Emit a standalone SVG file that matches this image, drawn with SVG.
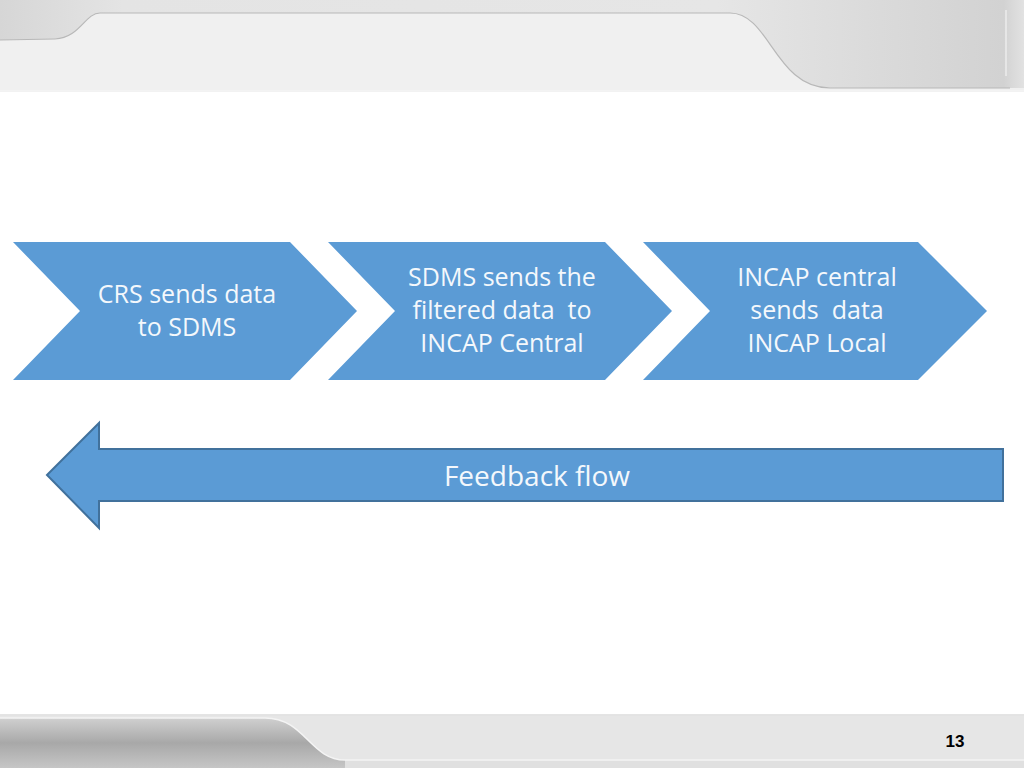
<svg xmlns="http://www.w3.org/2000/svg" width="1024" height="768" viewBox="0 0 1024 768">
  <defs>
    <linearGradient id="hdr" x1="0" y1="0" x2="1" y2="0">
      <stop offset="0" stop-color="#d6d6d6"/>
      <stop offset="0.12" stop-color="#e4e4e4"/>
      <stop offset="0.7" stop-color="#e6e6e6"/>
      <stop offset="0.86" stop-color="#dadada"/>
      <stop offset="0.98" stop-color="#d2d2d2"/>
      <stop offset="1" stop-color="#e2e2e2"/>
    </linearGradient>
    <linearGradient id="ftrDark" x1="0" y1="0" x2="0" y2="1">
      <stop offset="0" stop-color="#d0d0d0"/>
      <stop offset="0.5" stop-color="#a8a8a8"/>
      <stop offset="1" stop-color="#c6c6c6"/>
    </linearGradient>
    <style>
      .chev { fill: #5b9bd5; }
      .lbl { font-family: "Open Sans", "Liberation Sans", sans-serif; font-size: 25px; fill: #f4f8fc; text-anchor: middle; }
      .fb { fill: #5b9bd5; stroke: #41719c; stroke-width: 2; }
    </style>
  </defs>

  <rect width="1024" height="768" fill="#ffffff"/>

  <!-- header -->
  <rect x="0" y="0" width="1024" height="90" fill="url(#hdr)"/>
  <path d="M0,40 L55,39 C80,38 85,13 100,13 L730,13 C770,13 775,88 830,88 L1024,88 L1024,90 L0,90 Z" fill="#f0f0f0"/>
  <path d="M0,40 L55,39 C80,38 85,13 100,13 L730,13 C770,13 775,88 830,88 L1010,88" fill="none" stroke="#b8b8b8" stroke-width="1.2"/>
  <line x1="1006" y1="10" x2="1006" y2="76" stroke="#ececec" stroke-width="1.5"/>
  <line x1="0" y1="91" x2="1024" y2="91" stroke="#e6e6e6" stroke-width="1"/>

  <!-- footer -->
  <rect x="0" y="716" width="1024" height="52" fill="#e6e6e6"/>
  <path d="M0,718 L265,718 C305,718 310,760 345,760 L1024,760 L1024,768 L0,768 Z" fill="url(#ftrDark)"/>
  <rect x="345" y="760" width="679" height="8" fill="#e0e0e0"/>
  <path d="M0,718 L265,718 C305,718 310,760 345,760 L1024,760" fill="none" stroke="#f4f4f4" stroke-width="1.5"/>
  <line x1="0" y1="715" x2="1024" y2="715" stroke="#c8c8c8" stroke-width="1"/>
  <text x="955" y="747" font-family="Liberation Sans Narrow, Liberation Sans, Arial, sans-serif" font-size="17" font-weight="bold" fill="#000" text-anchor="middle">13</text>

  <!-- nodes -->
  <g id="step1">
    <polygon class="chev" points="13,242 290,242 357,311 290,380 13,380 80,311"/>
    <text class="lbl" x="187" y="303">CRS sends data</text>
    <text class="lbl" x="187" y="336">to SDMS</text>
  </g>
  <g id="step2">
    <polygon class="chev" points="328,242 605,242 672,311 605,380 328,380 395,311"/>
    <text class="lbl" x="502" y="286">SDMS sends the</text>
    <text class="lbl" x="502" y="319" xml:space="preserve">filtered data  to</text>
    <text class="lbl" x="502" y="352">INCAP Central</text>
  </g>
  <g id="step3">
    <polygon class="chev" points="643,242 918,242 987,311 918,380 643,380 710,311"/>
    <text class="lbl" x="817" y="286">INCAP central</text>
    <text class="lbl" x="817" y="319" xml:space="preserve">sends  data</text>
    <text class="lbl" x="817" y="352">INCAP Local</text>
  </g>

  <g id="connectors">
    <g id="feedback">
      <polygon class="fb" points="47,475 99,423 99,449 1003,449 1003,501 99,501 99,528"/>
      <text class="lbl" x="537" y="486" style="font-size:28px">Feedback flow</text>
    </g>
  </g>
</svg>
